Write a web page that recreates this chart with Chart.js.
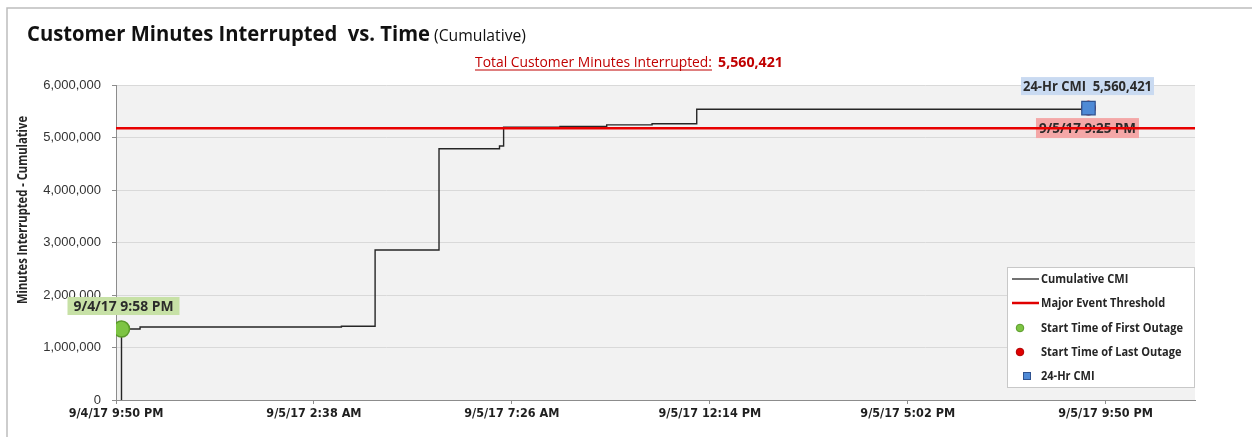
<!DOCTYPE html>
<html>
<head>
<meta charset="utf-8">
<script src="https://cdn.jsdelivr.net/npm/chart.js@4.4.1/dist/chart.umd.min.js"></script>
<style>
  html, body { margin: 0; padding: 0; background: #fff; }
  #wrap { width: 1252px; height: 437px; }
</style>
</head>
<body>
<div id="wrap"><canvas id="cmiChart" width="1252" height="437"></canvas></div>
<script>
// ---- Data ----
const axisStart = '9/4/17 9:50 PM';
const axisEnd = '9/6/17 12:00 AM';
const xTickLabels = ['9/4/17 9:50 PM', '9/5/17 2:38 AM', '9/5/17 7:26 AM', '9/5/17 12:14 PM', '9/5/17 5:02 PM', '9/5/17 9:50 PM'];
const yTickStep = 1000000;
const yMax = 6000000;

// cumulative CMI (value holds until the next timestamp)
const cmiTimes = ['9/4/17 9:58 PM', '9/4/17 9:58 PM', '9/4/17 10:25 PM', '9/5/17 3:18 AM', '9/5/17 4:07 AM',
                  '9/5/17 5:40 AM', '9/5/17 7:08 AM', '9/5/17 7:14 AM', '9/5/17 8:36 AM', '9/5/17 9:44 AM',
                  '9/5/17 10:50 AM', '9/5/17 11:55 AM', '9/5/17 9:25 PM'];
const cmiValues = [0, 1352000, 1390000, 1404000, 2857000,
                   4787000, 4838000, 5194000, 5212000, 5240000,
                   5262000, 5537000, 5560421];

const thresholdValue = 5174000;
const firstOutageTime = '9/4/17 9:58 PM';
const firstOutageValue = 1352000;
const lastOutageTime = '9/5/17 9:25 PM';
const lastOutageValue = 5560421;
const cmi24Time = '9/5/17 9:25 PM';
const cmi24Value = 5560421;
const totalCMI = 5560421;

// ---- helpers ----
// minutes since the left edge of the axis
function toMin(s) {
  const [date, hm, ap] = s.split(' ');
  const day = parseInt(date.split('/')[1]);
  let [h, m] = hm.split(':').map(Number);
  if (ap === 'PM' && h !== 12) h += 12;
  if (ap === 'AM' && h === 12) h = 0;
  return day * 1440 + h * 60 + m - base;
}
let base = 0;
base = toMin(axisStart);
const xMin = 0;
const xMax = toMin(axisEnd);
const xTickVals = xTickLabels.map(toMin);
const fmt = v => v.toLocaleString('en-US');

const cmiData = cmiTimes.map((t, i) => ({ x: toMin(t), y: cmiValues[i] }));

// draw text squeezed/stretched to a given width (the original uses a narrow font)
function fitText(ctx, text, x, y, w) {
  const m = ctx.measureText(text).width;
  ctx.save();
  ctx.translate(x, y);
  ctx.scale(w / m, 1);
  ctx.textAlign = 'left';
  ctx.fillText(text, 0, 0);
  ctx.restore();
}

const FONT = "'Open Sans', 'Noto Sans', sans-serif";

// background of the plot + outer frame
const bgPlugin = {
  id: 'plotBg',
  beforeDraw(chart) {
    const { ctx, chartArea: a } = chart;
    ctx.save();
    ctx.fillStyle = '#fff';
    ctx.fillRect(0, 0, chart.width, chart.height);
    ctx.strokeStyle = '#bdbdbd';
    ctx.lineWidth = 1.5;
    ctx.beginPath();
    ctx.moveTo(7, chart.height);
    ctx.lineTo(7, 8);
    ctx.lineTo(chart.width, 8);
    ctx.stroke();
    ctx.fillStyle = '#f2f2f2';
    ctx.fillRect(a.left, a.top, a.right - a.left, a.bottom - a.top);
    ctx.restore();
  }
};

// data labels (drawn under the lines, like the original)
const labelPlugin = {
  id: 'pointLabels',
  beforeDatasetsDraw(chart) {
    const { ctx, scales: { x, y } } = chart;
    const items = [
      { t: firstOutageTime, v: firstOutageValue, text: firstOutageTime, dx: 2, dy: -23, w: 112, h: 18, tw: 100, bg: '#c7e1a6' },
      { t: cmi24Time, v: cmi24Value, text: '24-Hr CMI  ' + fmt(cmi24Value), dx: -1, dy: -22, w: 133, h: 18, tw: 129, bg: '#c9daf1' },
      { t: lastOutageTime, v: lastOutageValue, text: lastOutageTime, dx: -1, dy: 20, w: 103, h: 20, tw: 97, bg: '#f4a7a7' }
    ];
    ctx.save();
    items.forEach(it => {
      const px = x.getPixelForValue(toMin(it.t)) + it.dx;
      const py = y.getPixelForValue(it.v) + it.dy;
      ctx.fillStyle = it.bg;
      ctx.fillRect(px - it.w / 2, py - it.h / 2, it.w, it.h);
      ctx.fillStyle = '#2b2b2b';
      ctx.font = 'bold 13.5px ' + FONT;
      ctx.textBaseline = 'middle';
      fitText(ctx, it.text, px - it.tw / 2, py + 1, it.tw);
    });
    ctx.restore();
  }
};

// titles, axis title and legend box
const textPlugin = {
  id: 'texts',
  afterDraw(chart) {
    const ctx = chart.ctx;
    ctx.save();
    ctx.textBaseline = 'alphabetic';
    ctx.fillStyle = '#111';
    ctx.font = 'bold 21px ' + FONT;
    fitText(ctx, 'Customer Minutes Interrupted  vs. Time', 27, 41, 403);
    ctx.font = '15.5px ' + FONT;
    fitText(ctx, '(Cumulative)', 434, 41, 92);

    ctx.fillStyle = '#c00000';
    ctx.font = '14px ' + FONT;
    fitText(ctx, 'Total Customer Minutes Interrupted:', 475, 67, 237);
    ctx.fillRect(475, 69.5, 237, 1);
    ctx.font = 'bold 14px ' + FONT;
    fitText(ctx, fmt(totalCMI), 718, 67, 65);

    // y axis title
    ctx.fillStyle = '#262626';
    ctx.font = 'bold 14px ' + FONT;
    ctx.save();
    ctx.translate(23, 210);
    ctx.rotate(-Math.PI / 2);
    ctx.textBaseline = 'middle';
    fitText(ctx, 'Minutes Interrupted - Cumulative', -94, 0, 188);
    ctx.restore();

    // legend
    ctx.fillStyle = '#fff';
    ctx.fillRect(1007, 267, 187, 120);
    ctx.strokeStyle = '#c8c8c8';
    ctx.lineWidth = 1;
    ctx.strokeRect(1007.5, 267.5, 187, 120);
    const rows = [
      { text: 'Cumulative CMI', kind: 'line', color: '#262626', lw: 1.3 },
      { text: 'Major Event Threshold', kind: 'line', color: '#e00000', lw: 2.5 },
      { text: 'Start Time of First Outage', kind: 'circle', color: '#7dc443', border: '#5a9a2a' },
      { text: 'Start Time of Last Outage', kind: 'circle', color: '#e00000', border: '#b00000' },
      { text: '24-Hr CMI', kind: 'square', color: '#4f8ad6', border: '#2f528f' }
    ];
    const rowY = [279, 303, 328, 352, 376];
    ctx.font = 'bold 12px ' + FONT;
    const k = 142 / ctx.measureText(rows[2].text).width;
    rows.forEach((r, i) => {
      const yy = rowY[i];
      if (r.kind === 'line') {
        ctx.strokeStyle = r.color;
        ctx.lineWidth = r.lw;
        ctx.beginPath();
        ctx.moveTo(1012, yy);
        ctx.lineTo(1039, yy);
        ctx.stroke();
      } else if (r.kind === 'circle') {
        ctx.fillStyle = r.color;
        ctx.strokeStyle = r.border;
        ctx.lineWidth = 1;
        ctx.beginPath();
        ctx.arc(1020, yy, 3.8, 0, Math.PI * 2);
        ctx.fill();
        ctx.stroke();
      } else {
        ctx.fillStyle = r.color;
        ctx.strokeStyle = r.border;
        ctx.lineWidth = 1;
        ctx.fillRect(1023.5, yy - 3.5, 7, 7);
        ctx.strokeRect(1023.5, yy - 3.5, 7, 7);
      }
      ctx.fillStyle = '#262626';
      ctx.textBaseline = 'middle';
      fitText(ctx, r.text, 1041, yy + 1, ctx.measureText(r.text).width * k);
    });
    ctx.restore();
  }
};

const ctx = document.getElementById('cmiChart').getContext('2d');
const cmiChart = new Chart(ctx, {
  type: 'line',
  data: {
    datasets: [
      {
        label: '24-Hr CMI',
        data: [{ x: toMin(cmi24Time), y: cmi24Value }],
        showLine: false,
        pointStyle: 'rect',
        pointRadius: 9.5,
        pointBackgroundColor: '#4f8ad6',
        pointBorderColor: '#2f528f',
        pointBorderWidth: 1.2,
        order: 0
      },
      {
        label: 'Start Time of Last Outage',
        data: [{ x: toMin(lastOutageTime), y: lastOutageValue }],
        showLine: false,
        pointStyle: 'circle',
        pointRadius: 7,
        pointBackgroundColor: '#e00000',
        pointBorderColor: '#b00000',
        order: 1
      },
      {
        label: 'Start Time of First Outage',
        data: [{ x: toMin(firstOutageTime), y: firstOutageValue }],
        showLine: false,
        pointStyle: 'circle',
        pointRadius: 8,
        pointBackgroundColor: '#7dc443',
        pointBorderColor: '#5a9a2a',
        pointBorderWidth: 1.5,
        order: 1
      },
      {
        label: 'Major Event Threshold',
        data: [{ x: xMin, y: thresholdValue }, { x: xMax, y: thresholdValue }],
        borderColor: '#e80000',
        borderWidth: 2.5,
        pointRadius: 0,
        order: 2
      },
      {
        label: 'Cumulative CMI',
        data: cmiData,
        stepped: true,
        borderColor: '#262626',
        borderWidth: 1.4,
        pointRadius: 0,
        order: 3
      }
    ]
  },
  options: {
    responsive: false,
    animation: false,
    layout: { padding: { top: 85, right: 57, left: 0, bottom: 0 } },
    plugins: { legend: { display: false }, tooltip: { enabled: false } },
    scales: {
      x: {
        type: 'linear',
        min: xMin,
        max: xMax,
        afterBuildTicks: axis => { axis.ticks = xTickVals.map(v => ({ value: v })); },
        afterFit: axis => { axis.height = 37; },
        grid: { drawOnChartArea: false, drawTicks: true, tickLength: 4, tickColor: '#8c8c8c' },
        border: { color: '#8c8c8c', width: 1 },
        ticks: {
          autoSkip: false,
          maxRotation: 0,
          padding: 2,
          color: '#1f1f1f',
          font: { family: "'Liberation Sans Narrow', 'DejaVu Sans Condensed', sans-serif", size: 12.5, weight: 'bold' },
          callback: v => xTickLabels[xTickVals.indexOf(v)]
        }
      },
      y: {
        min: 0,
        max: yMax,
        afterFit: axis => { axis.width = 116; },
        grid: { color: '#d9d9d9', tickLength: 4, tickColor: '#8c8c8c' },
        border: { color: '#8c8c8c', width: 1 },
        ticks: {
          stepSize: yTickStep,
          padding: 11,
          color: '#333',
          font: { family: "'Liberation Sans', Arial, sans-serif", size: 13 },
          callback: v => fmt(v)
        }
      }
    }
  },
  plugins: [bgPlugin, labelPlugin, textPlugin]
});
</script>
</body>
</html>
